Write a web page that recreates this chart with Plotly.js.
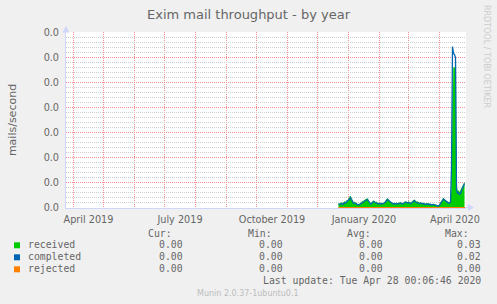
<!DOCTYPE html>
<html><head><meta charset="utf-8">
<script src="https://cdn.plot.ly/plotly-3.0.1.min.js"></script>
<style>html,body{margin:0;padding:0;background:#F0F0F0;}#chart{width:497px;height:304px;}</style>
</head><body><div id="chart"></div>
<script>
// ---- data ----
const startDate = '2019-12-22';      // first daily sample
const rangeStart = '2019-03-24 12:06:46';
const rangeEnd = '2020-04-27 12:06:46';
const received = [
 0.0008,0.0007,0.0009,0.0010,0.0007,0.0010,0.0012,0.0010,0.0014,0.0012,
 0.0015,0.0021,0.0023,0.0018,0.0012,0.0010,0.0011,0.0009,0.0008,0.0007,
 0.0006,0.0007,0.0008,0.0010,0.0013,0.0012,0.0015,0.0016,0.0017,0.0018,
 0.0014,0.0010,0.0008,0.0009,0.0012,0.0014,0.0012,0.0010,0.0011,0.0009,
 0.0008,0.0009,0.0008,0.0009,0.0008,0.0009,0.0010,0.0013,0.0016,0.0018,
 0.0016,0.0013,0.0011,0.0010,0.0009,0.0008,0.0009,0.0008,0.0009,0.0008,
 0.0009,0.0010,0.0010,0.0009,0.0008,0.0009,0.0011,0.0012,0.0011,0.0010,
 0.0012,0.0010,0.0009,0.0010,0.0013,0.0015,0.0015,0.0012,0.0011,0.0012,
 0.0010,0.0009,0.0010,0.0009,0.0008,0.0009,0.0008,0.0007,0.0008,0.0008,
 0.0007,0.0008,0.0007,0.0006,0.0007,0.0007,0.0006,0.0006,0.0005,0.0004,
 0.0004,0.0006,0.0010,0.0014,0.0018,0.0019,0.0016,0.0015,0.0013,0.0011,
 0.0010,0.0010,0.0012,0.0040,0.0200,0.0280,0.0280,0.0276,0.0044,0.0032,
 0.0034,0.0030,0.0034,0.0038,0.0044,0.0048,0.0050
];
const completed = [
 0.0006,0.0006,0.0007,0.0008,0.0006,0.0008,0.0010,0.0009,0.0011,0.0011,
 0.0013,0.0017,0.0020,0.0016,0.0011,0.0008,0.0009,0.0008,0.0007,0.0006,
 0.0005,0.0006,0.0007,0.0008,0.0010,0.0011,0.0013,0.0014,0.0015,0.0016,
 0.0013,0.0009,0.0007,0.0008,0.0010,0.0012,0.0011,0.0009,0.0009,0.0008,
 0.0007,0.0008,0.0007,0.0008,0.0007,0.0008,0.0009,0.0011,0.0014,0.0016,
 0.0014,0.0012,0.0010,0.0009,0.0008,0.0007,0.0008,0.0007,0.0008,0.0007,
 0.0008,0.0009,0.0009,0.0008,0.0007,0.0008,0.0009,0.0011,0.0010,0.0009,
 0.0010,0.0009,0.0008,0.0009,0.0011,0.0013,0.0014,0.0011,0.0010,0.0010,
 0.0009,0.0008,0.0009,0.0008,0.0007,0.0008,0.0007,0.0006,0.0007,0.0007,
 0.0006,0.0007,0.0006,0.0005,0.0006,0.0006,0.0005,0.0005,0.0004,0.0003,
 0.0003,0.0005,0.0008,0.0012,0.0016,0.0017,0.0015,0.0013,0.0011,0.0010,
 0.0009,0.0009,0.0011,0.0080,0.0322,0.0308,0.0306,0.0300,0.0036,0.0028,
 0.0030,0.0026,0.0028,0.0034,0.0040,0.0042,0.0048
];
const rejectedDates = ['2019-12-22', '2020-04-27'];
const rejected = [0, 0];

const seriesNames = ['received', 'completed', 'rejected'];
const curVals = [0.00, 0.00, 0.00];
const minVals = [0.00, 0.00, 0.00];
const avgVals = [0.00, 0.00, 0.00];
const maxVals = [0.03, 0.02, 0.00];
const statHeaders = ['Cur:', 'Min:', 'Avg:', 'Max:'];
const titleText = 'Exim mail throughput - by year';
const yTitle = 'mails/second';
const lastUpdate = 'Last update: Tue Apr 28 00:06:46 2020';
const sideText = 'RRDTOOL / TOBI OETIKER';
const footer = 'Munin 2.0.37-1ubuntu0.1';

// ---- style ----
const colors = ['#00CC00', '#0066B3', '#FF8000'];
const FONT = 'DejaVu Sans, Verdana, sans-serif';
const MONO = 'DejaVu Sans Mono, monospace';
const TXT = '#666666';
const AXIS = '#CFD6F8';
const MGRID = '#F09090';
const GRID = '#CFCFCF';
const DASH = '1px,1px';

const L = 66, R = 466, T = 32, B = 208;
const W = R - L, H = B - T;
const px = v => (v - L) / W;
const py = v => (B - v) / H;

const traces = [
  {x0: startDate, dx: 86400000, y: received, type: 'scatter', mode: 'lines',
   xaxis: 'x', yaxis: 'y',
   line: {color: colors[0], width: 0.5}, fill: 'tozeroy', fillcolor: colors[0]},
  {x0: startDate, dx: 86400000, y: completed, type: 'scatter', mode: 'lines',
   xaxis: 'x', yaxis: 'y',
   line: {color: colors[1], width: 1.3}},
  {x: rejectedDates, y: rejected, type: 'scatter', mode: 'lines',
   xaxis: 'x2', yaxis: 'y2',
   line: {color: colors[2], width: 1.2}}
];

const ann = [];
const shapes = [];
const headerRight = [172.7, 272.7, 371.7, 470];
const valueRight = [184.3, 284.3, 383.7, 482.3];
const rowY = [244.7, 256.7, 268.7];
statHeaders.forEach((h, j) => ann.push({text: h, xref: 'paper', yref: 'paper',
  x: px(headerRight[j]), y: py(233), xanchor: 'right', yanchor: 'middle',
  showarrow: false, borderpad: 0, font: {family: MONO, size: 9.8, color: TXT}}));
seriesNames.forEach((n, i) => {
  shapes.push({type: 'rect', xref: 'paper', yref: 'paper',
    x0: px(14), x1: px(20), y0: py(rowY[i] + 3.6), y1: py(rowY[i] - 2.4),
    fillcolor: colors[i], line: {width: 0}});
  ann.push({text: n, xref: 'paper', yref: 'paper', x: px(26.7), y: py(rowY[i]),
    xanchor: 'left', yanchor: 'middle', showarrow: false, borderpad: 0,
    font: {family: MONO, size: 9.8, color: TXT}});
  [curVals, minVals, avgVals, maxVals].forEach((arr, j) => ann.push({
    text: arr[i].toFixed(2), xref: 'paper', yref: 'paper', x: px(valueRight[j]), y: py(rowY[i]),
    xanchor: 'right', yanchor: 'middle', showarrow: false, borderpad: 0,
    font: {family: MONO, size: 9.8, color: TXT}}));
});
ann.push({text: lastUpdate, xref: 'paper', yref: 'paper', x: px(482.3), y: py(280.7),
  xanchor: 'right', yanchor: 'middle', showarrow: false, borderpad: 0,
  font: {family: MONO, size: 9.8, color: TXT}});
ann.push({text: footer, xref: 'paper', yref: 'paper', x: px(248), y: py(293),
  xanchor: 'center', yanchor: 'middle', showarrow: false, borderpad: 0,
  font: {family: FONT, size: 8, color: '#BDBDBD'}});
ann.push({text: sideText, xref: 'paper', yref: 'paper', x: px(487), y: py(56),
  xanchor: 'center', yanchor: 'middle', textangle: 90, showarrow: false, borderpad: 0,
  font: {family: FONT, size: 8, color: '#CCCCCC'}});

// axis arrows
shapes.push({type: 'path', xref: 'paper', yref: 'paper',
  path: `M ${px(62.5)},${py(32.5)} L ${px(69.5)},${py(32.5)} L ${px(66)},${py(26)} Z`,
  fillcolor: AXIS, line: {width: 0}});
shapes.push({type: 'line', xref: 'paper', yref: 'paper',
  x0: px(465), x1: px(469), y0: py(207.5), y1: py(207.5), line: {color: AXIS, width: 1}});
shapes.push({type: 'path', xref: 'paper', yref: 'paper',
  path: `M ${px(468)},${py(204)} L ${px(468)},${py(211)} L ${px(474)},${py(207.5)} Z`,
  fillcolor: AXIS, line: {width: 0}});

// half-pixel offset so 1px grid lines land on whole pixels
const yRange = [-0.0001, 0.0351];
const layout = {
  width: 497, height: 304,
  margin: {l: L, r: 497 - R, t: T, b: 304 - B, pad: 0},
  paper_bgcolor: '#F0F0F0', plot_bgcolor: '#FFFFFF',
  showlegend: false, hovermode: false,
  title: {text: titleText, x: 0.5, xref: 'container', xanchor: 'center',
    y: 1 - 14 / 304, yref: 'container', yanchor: 'middle',
    font: {family: FONT, size: 13, color: TXT}},
  // monthly red grid (main axis)
  xaxis: {type: 'date', range: [rangeStart, rangeEnd],
    dtick: 'M1', tick0: '2019-04-01', showticklabels: false, ticks: '',
    showgrid: true, gridcolor: MGRID, griddash: DASH, gridwidth: 1,
    showline: true, linecolor: AXIS, linewidth: 1, zeroline: false,
    layer: 'below traces', automargin: false, fixedrange: true},
  // labels centred on each quarter's first month
  xaxis2: {type: 'date', range: [rangeStart, rangeEnd], overlaying: 'x', anchor: 'y2', side: 'bottom',
    dtick: 'M1', tick0: '2019-04-01', ticklabelmode: 'period', ticklabelstep: 3,
    tickformat: '%B %Y', ticks: 'outside', ticklen: 2, tickcolor: 'rgba(0,0,0,0)',
    tickfont: {family: FONT, size: 9.7, color: TXT},
    showgrid: false, showline: false, zeroline: false, automargin: false, fixedrange: true},
  // two-week grey grid
  xaxis3: {type: 'date', range: [rangeStart, rangeEnd], overlaying: 'x', anchor: 'y', side: 'bottom',
    dtick: 14 * 86400000, tick0: '2019-04-07', showticklabels: false, ticks: '',
    showgrid: true, gridcolor: GRID, griddash: DASH, gridwidth: 1,
    showline: false, zeroline: false, automargin: false, fixedrange: true},
  yaxis: {range: yRange, dtick: 0.001, tick0: 0, showticklabels: false, ticks: '',
    showgrid: true, gridcolor: GRID, griddash: DASH, gridwidth: 1,
    showline: true, linecolor: AXIS, linewidth: 1, zeroline: false,
    layer: 'below traces', automargin: false, fixedrange: true},
  yaxis2: {range: yRange, overlaying: 'y', anchor: 'x2', side: 'left',
    dtick: 0.005, tick0: 0, tickformat: '.1f',
    ticks: 'outside', ticklen: 4, tickcolor: 'rgba(0,0,0,0)',
    tickfont: {family: FONT, size: 9.7, color: TXT},
    showgrid: true, gridcolor: MGRID, griddash: DASH, gridwidth: 1,
    showline: false, zeroline: false, layer: 'below traces',
    title: {text: yTitle, standoff: 24, font: {family: FONT, size: 11, color: TXT}},
    automargin: false, fixedrange: true},
  annotations: ann,
  shapes: shapes
};

Plotly.newPlot('chart', traces, layout, {staticPlot: true, displayModeBar: false});
</script>
</body></html>
